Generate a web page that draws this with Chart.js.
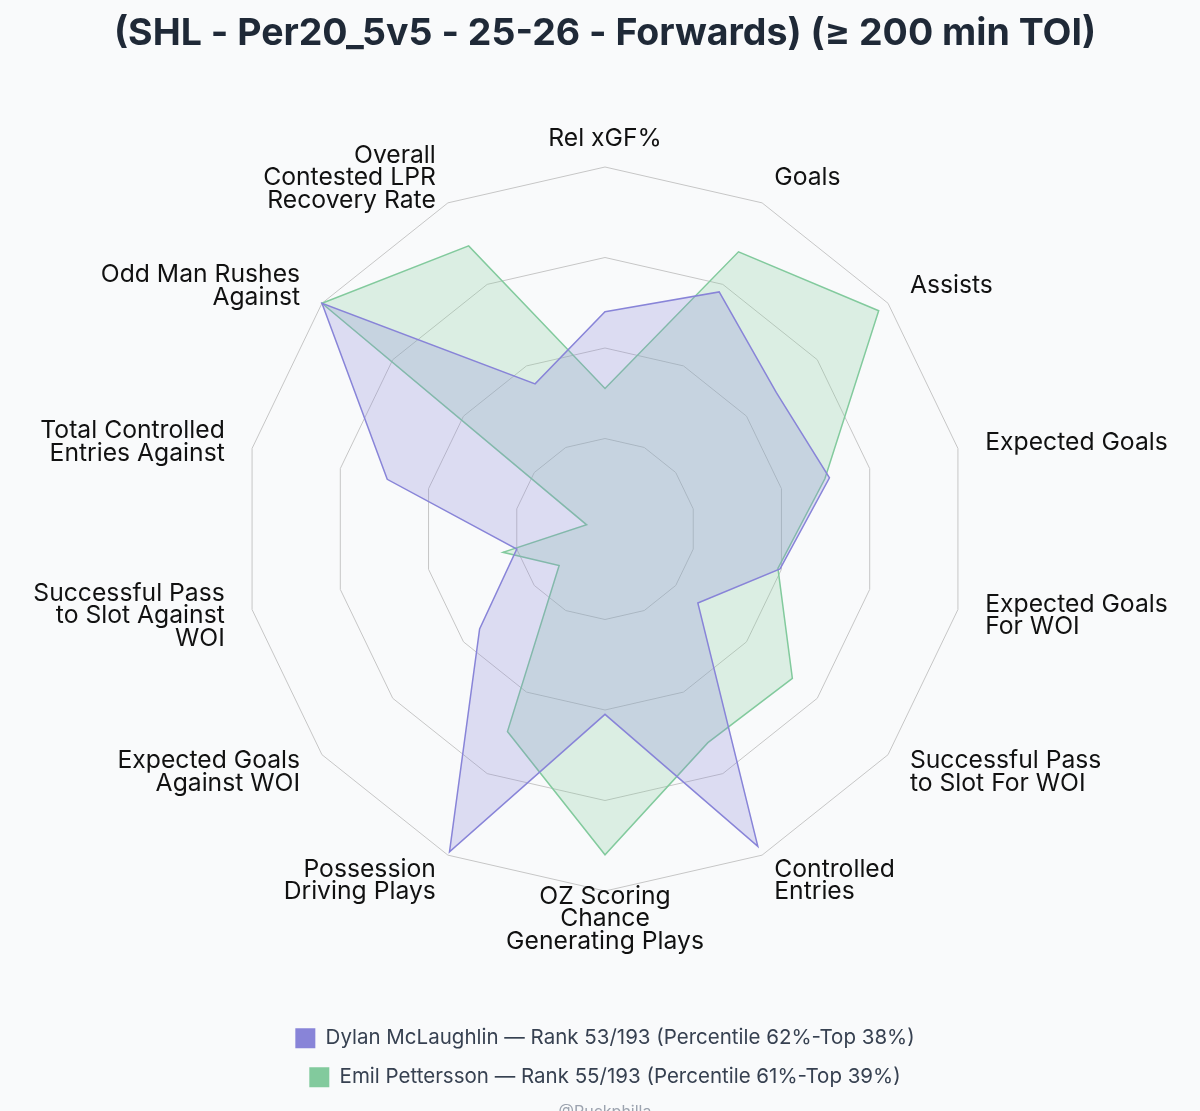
<!DOCTYPE html>
<html>
<head>
<meta charset="utf-8">
<title>SHL radar</title>
<script src="https://cdn.jsdelivr.net/npm/chart.js@4.4.1/dist/chart.umd.min.js"></script>
<style>
  html, body { margin: 0; padding: 0; background: #f9fafb; overflow: hidden; }
  canvas { display: block; }
</style>
</head>
<body>
<canvas id="radar" width="1200" height="1122"></canvas>
<script>
    'use strict';

    // metric names, one entry per spoke (clockwise from the top)
    const metrics = [
        'Rel xGF%',
        'Goals',
        'Assists',
        'Expected Goals',
        ['Expected Goals', 'For WOI'],
        ['Successful Pass', 'to Slot For WOI'],
        ['Controlled', 'Entries'],
        ['OZ Scoring', 'Chance', 'Generating Plays'],
        ['Possession', 'Driving Plays'],
        ['Expected Goals', 'Against WOI'],
        ['Successful Pass', 'to Slot Against', 'WOI'],
        ['Total Controlled', 'Entries Against'],
        ['Odd Man Rushes', 'Against'],
        ['Overall', 'Contested LPR', 'Recovery Rate']
    ];

    // percentiles
    const mclaughlin = [60, 72.7, 60.5, 63.6, 49.6, 32.8, 97.3, 51.2, 99, 44.3, 25, 61.7, 100, 44.5];
    const pettersson = [38.8, 85, 96.7, 62.3, 49, 66.2, 65.5, 90, 62.1, 16.2, 28.9, 5.2, 100, 86.8];

    const playerNames = [
        'Dylan McLaughlin — Rank 53/193 (Percentile 62%-Top 38%)',
        'Emil Pettersson — Rank 55/193 (Percentile 61%-Top 39%)'
    ];
    const ringTicks = [0, 25, 50, 75, 100];

    const PURPLE = '#8884d8';
    const GREEN = '#82ca9d';

    // labels centred on a point a little outside each spoke
    const spokeLabels = {
        id: 'spokeLabels',
        afterDraw: function(chart) {
            const scale = chart.scales.r;
            const ctx = chart.ctx;
            const lineH = 22.5;
            ctx.save();
            ctx.font = '24.7px Inter, sans-serif';
            ctx.fillStyle = '#111111';
            ctx.textBaseline = 'middle';
            chart.data.labels.forEach(function(label, i) {
                const pos = scale.getPointPosition(i, scale.drawingArea + 28);
                const lines = Array.isArray(label) ? label : [label];
                const dx = pos.x - scale.xCenter;
                ctx.textAlign = Math.abs(dx) < 1 ? 'center' : (dx > 0 ? 'left' : 'right');
                const top = pos.y - (lines.length - 1) * lineH / 2;
                lines.forEach(function(line, j) {
                    ctx.fillText(line, pos.x, top + j * lineH);
                });
            });
            ctx.restore();
        }
    };

    const canvas = document.getElementById('radar');
    new Chart(canvas, {
        type: 'radar',
        data: {
            labels: metrics,
            datasets: [
                {
                    label: playerNames[0],
                    data: mclaughlin,
                    borderColor: PURPLE,
                    backgroundColor: 'rgba(136, 132, 216, 0.25)',
                    borderWidth: 1.5,
                    pointRadius: 0,
                    fill: true
                },
                {
                    label: playerNames[1],
                    data: pettersson,
                    borderColor: GREEN,
                    backgroundColor: 'rgba(130, 202, 157, 0.25)',
                    borderWidth: 1.5,
                    pointRadius: 0,
                    fill: true
                }
            ]
        },
        options: {
            responsive: false,
            animation: false,
            layout: {
                padding: { left: 10, right: 0, top: 0, bottom: 0 }
            },
            scales: {
                r: {
                    min: ringTicks[0],
                    max: ringTicks[ringTicks.length - 1],
                    ticks: { display: false, stepSize: ringTicks[1] - ringTicks[0] },
                    grid: { color: '#c6c6c6', lineWidth: 1 },
                    angleLines: { display: false },
                    pointLabels: { display: false }
                }
            },
            plugins: {
                title: {
                    display: true,
                    text: '(SHL - Per20_5v5 - 25-26 - Forwards) (≥ 200 min TOI)',
                    color: '#1f2937',
                    font: { family: 'Inter, sans-serif', size: 37.5, weight: 'bold', lineHeight: 1.0 },
                    padding: { top: 15, bottom: 114.5 }
                },
                subtitle: {
                    display: true,
                    position: 'bottom',
                    text: '@Puckphilla',
                    color: '#9ca3af',
                    font: { family: 'Inter, sans-serif', size: 16, lineHeight: 1.25 },
                    padding: { top: 4.5, bottom: 0 }
                },
                legend: {
                    position: 'bottom',
                    // empty title only used as a spacer between the web and the legend
                    title: {
                        display: true,
                        text: '',
                        font: { size: 10, lineHeight: 1.0 },
                        padding: { top: 107.5, bottom: 0 }
                    },
                    labels: {
                        color: '#374151',
                        font: { family: 'Inter, sans-serif', size: 20.5 },
                        boxWidth: 20,
                        boxHeight: 20,
                        padding: 18.5,
                        useBorderRadius: true,
                        borderRadius: 3,
                        generateLabels: function(chart) {
                            return chart.data.datasets.map(function(ds, i) {
                                return {
                                    text: ds.label,
                                    fillStyle: ds.borderColor,
                                    strokeStyle: ds.borderColor,
                                    lineWidth: 0,
                                    fontColor: '#374151',
                                    datasetIndex: i
                                };
                            });
                        }
                    }
                },
                tooltip: { enabled: false }
            }
        },
        plugins: [spokeLabels]
    });
</script>
</body>
</html>
